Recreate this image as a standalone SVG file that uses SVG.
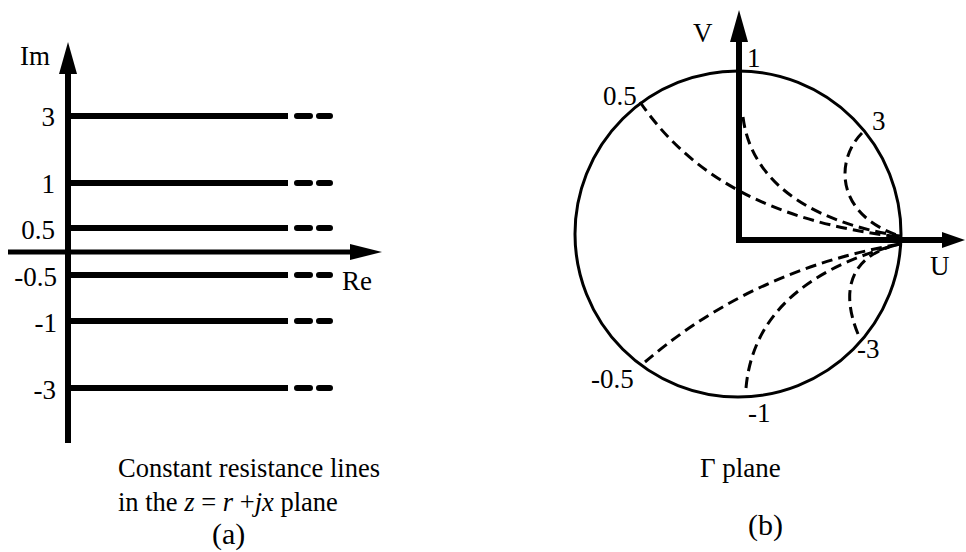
<svg xmlns="http://www.w3.org/2000/svg" width="966" height="552" viewBox="0 0 966 552">
<style>
  text { font-family: "Liberation Serif", "Times New Roman", serif; fill: #000; }
  .lbl { font-size: 27px; }
  .cap { font-size: 26.5px; }
  .capb { font-size: 30px; }
  .axis { stroke: #000; stroke-width: 6; fill: none; }
  .hl { stroke: #000; stroke-width: 6; fill: none; }
  .hd { stroke: #000; stroke-width: 6; fill: none; stroke-linecap: round; stroke-dasharray: 13 9; }
  .arc { stroke: #000; stroke-width: 3; fill: none; stroke-dasharray: 11 6; }
  .head { fill: #000; }
  .it { font-style: italic; }
</style>
<rect width="966" height="552" fill="#fff"/>

<!-- Panel (a) -->
<g id="panel-a">
  <g id="axes-a">
    <line class="axis" x1="68" y1="443" x2="68" y2="66"/>
    <polygon class="head" points="68,42 59,74 77,74"/>
    <line class="axis" x1="8" y1="252" x2="356" y2="252" style="stroke-width:5"/>
    <polygon class="head" points="382,252 350,244 350,260"/>
    <text class="lbl" x="20" y="65">Im</text>
    <text class="lbl" x="342" y="290">Re</text>
  </g>
  <g id="line-3">
    <line class="hl" x1="68" y1="116" x2="288" y2="116"/>
    <line class="hd" x1="297" y1="116" x2="330" y2="116"/>
    <text class="lbl" x="55" y="126" text-anchor="end">3</text>
  </g>
  <g id="line-1">
    <line class="hl" x1="68" y1="183" x2="288" y2="183"/>
    <line class="hd" x1="297" y1="183" x2="330" y2="183"/>
    <text class="lbl" x="55" y="193" text-anchor="end">1</text>
  </g>
  <g id="line-0.5">
    <line class="hl" x1="68" y1="228" x2="288" y2="228"/>
    <line class="hd" x1="297" y1="228" x2="330" y2="228"/>
    <text class="lbl" x="55" y="239" text-anchor="end">0.5</text>
  </g>
  <g id="line-m0.5">
    <line class="hl" x1="68" y1="275" x2="288" y2="275"/>
    <line class="hd" x1="297" y1="275" x2="330" y2="275"/>
    <text class="lbl" x="57" y="286" text-anchor="end">-0.5</text>
  </g>
  <g id="line-m1">
    <line class="hl" x1="68" y1="321" x2="288" y2="321"/>
    <line class="hd" x1="297" y1="321" x2="330" y2="321"/>
    <text class="lbl" x="57" y="332" text-anchor="end">-1</text>
  </g>
  <g id="line-m3">
    <line class="hl" x1="68" y1="388" x2="288" y2="388"/>
    <line class="hd" x1="297" y1="388" x2="330" y2="388"/>
    <text class="lbl" x="56" y="399" text-anchor="end">-3</text>
  </g>
  <g id="caption-a">
    <text class="cap" x="118" y="477">Constant resistance lines</text>
    <text class="cap" x="118" y="511">in the <tspan class="it">z</tspan> = <tspan class="it">r</tspan> +<tspan class="it">jx</tspan> plane</text>
    <text class="capb" x="212" y="544">(a)</text>
  </g>
</g>

<!-- Panel (b) -->
<g id="panel-b">
  <g id="unit-circle">
    <circle cx="738" cy="234" r="163" fill="none" stroke="#000" stroke-width="3"/>
  </g>
  <g id="connectors">
    <path class="arc" d="M640,102 C690,175 770,222 900,237"/>
    <path class="arc" d="M743,117 C750,175 800,220 900,236"/>
    <path class="arc" d="M862,133 C835,160 835,215 900,236"/>
    <path class="arc" d="M645,362 C700,315 780,265 900,244"/>
    <path class="arc" d="M746,388 C752,320 800,270 900,244"/>
    <path class="arc" d="M858,334 C840,290 850,255 900,244"/>
  </g>
  <g id="axes-b">
    <line class="axis" x1="739" y1="240" x2="739" y2="36"/>
    <polygon class="head" points="739,10 730,42 748,42"/>
    <line class="axis" x1="736" y1="240" x2="946" y2="240"/>
    <polygon class="head" points="965,240 942,232 942,248"/>
    <text class="lbl" x="693" y="42">V</text>
    <text class="lbl" x="930" y="275">U</text>
  </g>
  <g id="labels-b">
    <text class="lbl" x="747" y="67">1</text>
    <text class="lbl" x="603" y="105">0.5</text>
    <text class="lbl" x="872" y="130">3</text>
    <text class="lbl" x="857" y="358">-3</text>
    <text class="lbl" x="748" y="422">-1</text>
    <text class="lbl" x="591" y="388">-0.5</text>
  </g>
  <g id="caption-b">
    <text class="cap" x="700" y="477" style="font-size:27px">Γ plane</text>
    <text class="capb" x="748" y="535">(b)</text>
  </g>
</g>
</svg>
